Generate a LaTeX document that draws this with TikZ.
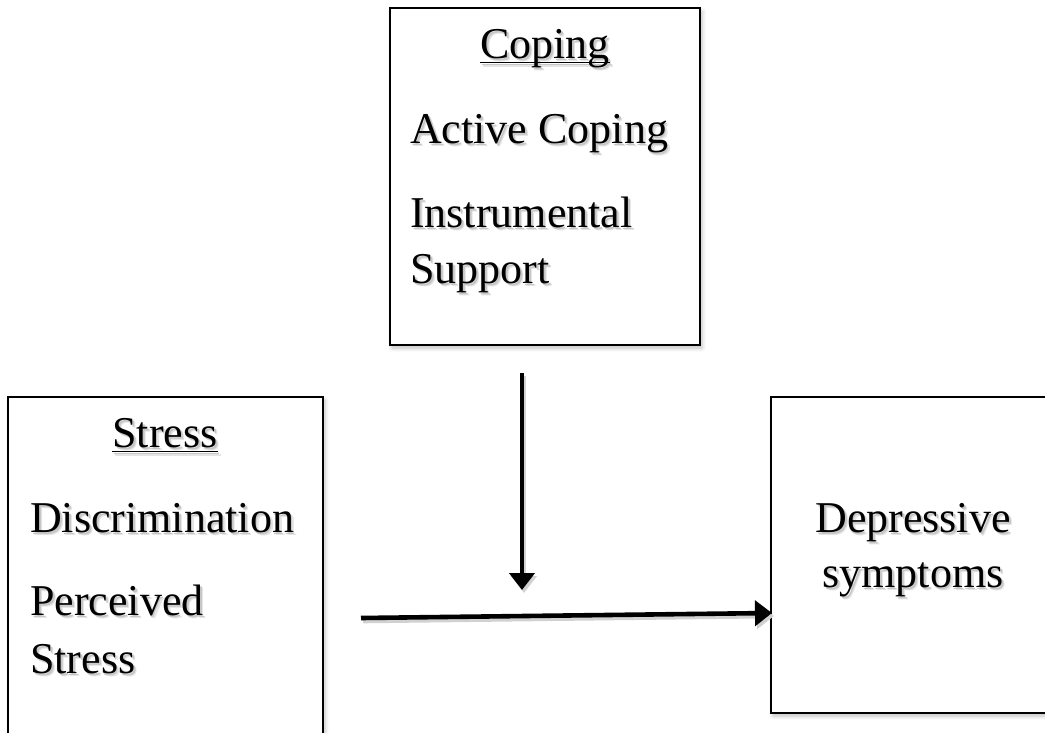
\documentclass[tikz,border=0pt]{standalone}
\usepackage{fontspec}
\setmainfont{Liberation Serif}
\usetikzlibrary{shadows.blur, arrows.meta}
\newcommand\shd[1]{\leavevmode\rlap{\hspace{3pt}\raisebox{-3.5pt}{\textcolor{black!10}{#1}}}\rlap{\hspace{1.8pt}\raisebox{-2.2pt}{\textcolor{black!22}{#1}}}#1}
\newcommand\ulx[1]{\setbox0\hbox{#1}\rlap{\rule[-5pt]{\wd0}{1.3pt}}\box0}
\tikzset{
  boxnode/.style={draw=black, line width=1.6pt, fill=white, rectangle, inner sep=0pt,
    blur shadow={shadow xshift=2pt, shadow yshift=-3pt, shadow blur radius=4pt, shadow opacity=25}},
  txt/.style={inner sep=0pt, font=\fontsize{44}{52}\selectfont},
  arr/.style={line width=4.6pt, -{Triangle[width=25pt,length=17pt]}},
}
\begin{document}
\begin{tikzpicture}[x=1pt,y=-1pt]
\useasboundingbox (0,0) rectangle (1045,732);
% boxes
\node[boxnode, minimum width=310pt, minimum height=337pt] (coping) at (545,176.5) {};
\node[boxnode, minimum width=315pt, minimum height=360pt] (stress) at (165.5,577) {};
\node[boxnode, minimum width=300pt, minimum height=316pt] (dep) at (921,555) {};
% coping texts
\node[txt, anchor=base] (copingh) at (545,58) {\shd{\ulx{Coping}}};
\node[txt, anchor=base west] (active) at (410,143) {\shd{Active Coping}};
\node[txt, anchor=base west] (instr) at (410,227) {\shd{Instrumental}};
\node[txt, anchor=base west] (supp) at (410,283) {\shd{Support}};
% stress texts
\node[txt, anchor=base] (stressh) at (165,447) {\shd{\ulx{Stress}}};
\node[txt, anchor=base west] (discr) at (30,532) {\shd{Discrimination}};
\node[txt, anchor=base west] (perc) at (30,615) {\shd{Perceived}};
\node[txt, anchor=base west] (pstress) at (30,673) {\shd{Stress}};
% depressive texts
\node[txt, anchor=base] (depa) at (913,532) {\shd{Depressive}};
\node[txt, anchor=base] (depb) at (913,587) {\shd{symptoms}};
% arrows
\coordinate (vs) at (522,373);
\coordinate (ve) at (522,590);
\coordinate (hs) at (361,618);
\coordinate (he) at (772,613);
\draw[arr, black!18] ([shift={(2,3)}]vs) -- ([shift={(2,3)}]ve);
\draw[arr, black!18] ([shift={(2,3)}]hs) -- ([shift={(2,3)}]he);
\draw[arr] (vs) -- (ve);
\draw[arr] (hs) -- (he);
\end{tikzpicture}
\end{document}
